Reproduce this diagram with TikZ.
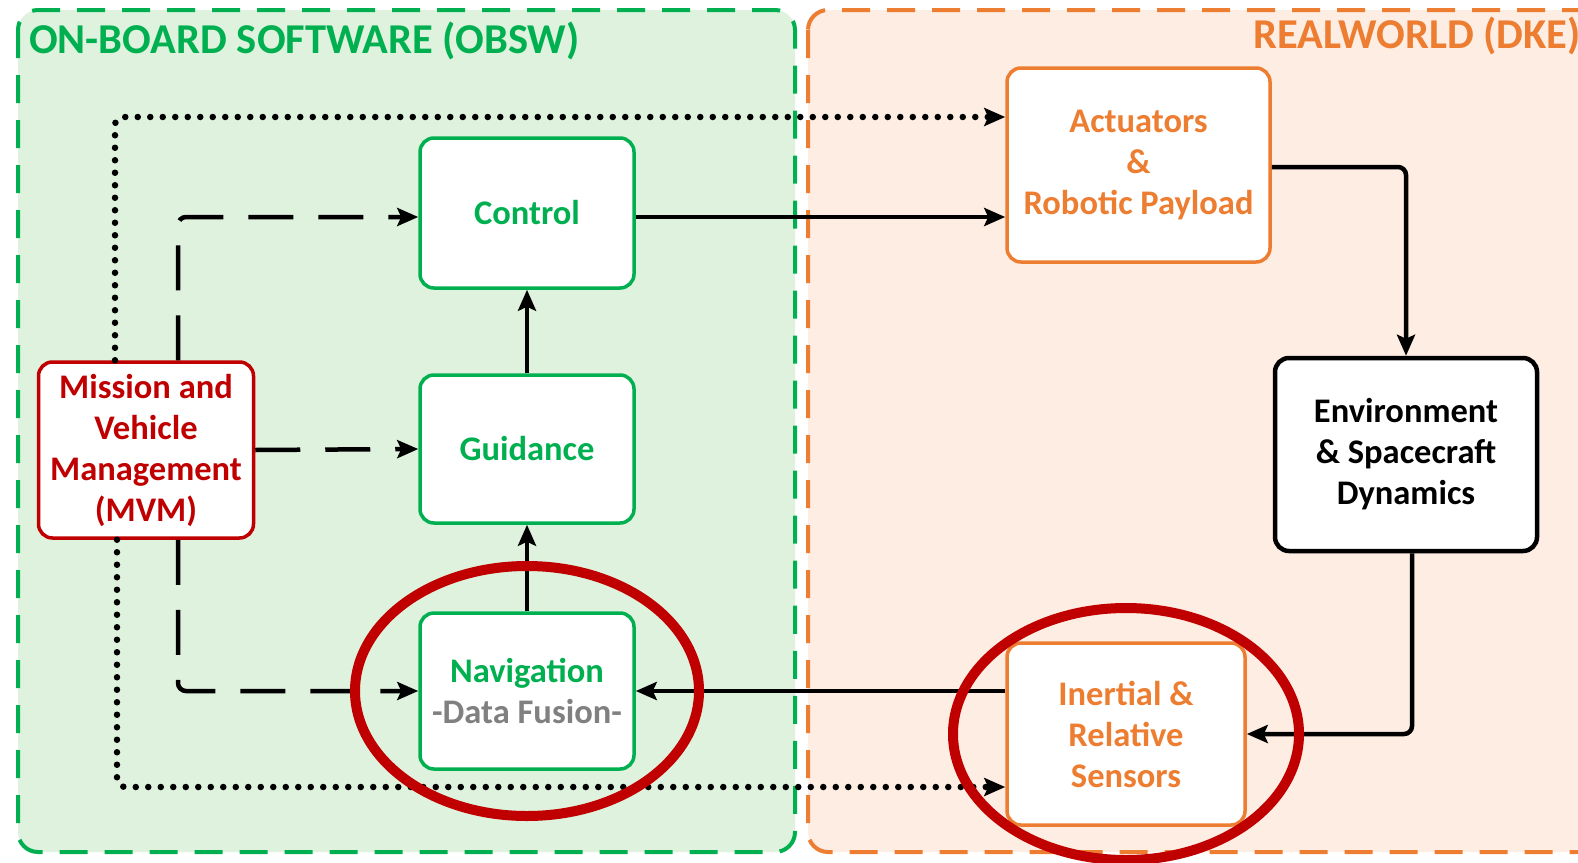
\documentclass[tikz,border=0pt]{standalone}
\usepackage{fontspec}
\setmainfont{Carlito}
\usetikzlibrary{arrows.meta}

\definecolor{obsw}{RGB}{0,176,80}
\definecolor{obswbg}{RGB}{222,242,222}
\definecolor{dke}{RGB}{237,125,49}
\definecolor{dkebg}{RGB}{253,237,227}
\definecolor{mvmred}{RGB}{192,0,0}
\definecolor{fusegrey}{RGB}{128,128,128}

\begin{document}
\begin{tikzpicture}[x=1pt,y=-1pt,
			font=\bfseries\fontsize{34.5}{41}\selectfont,
			region/.style={line width=4pt, dash pattern=on 28pt off 17pt, rounded corners=20pt},
			title/.style={font=\bfseries\fontsize{42.5}{48}\selectfont, anchor=west, inner sep=0pt},
			block/.style={draw, line width=3.5pt, fill=white, rounded corners=14pt, align=center, inner sep=0pt},
			sw/.style={block, draw=obsw, text=obsw, minimum width=214pt},
			rw/.style={block, draw=dke, text=dke},
			flow/.style={line width=4.5pt, -{Stealth[length=21pt,width=18pt,inset=4pt]}},
			cmd/.style={flow, dash pattern=on 45pt off 25pt},
			link/.style={flow, line width=6.5pt, line cap=round, dash pattern=on 0pt off 12.5pt},
			ring/.style={draw=mvmred, line width=10pt}]
			\clip (0,0) rectangle (1578,862);
			\useasboundingbox (0,0) rectangle (1578,862);
			% the two domains
			\draw[region, draw=obsw, fill=obswbg] (18,10) rectangle (795,852);
			\draw[region, draw=dke, fill=dkebg] (808,10) rectangle (1640,852);
			\node[title, text=obsw] (obswtitle) at (29,41) {ON-BOARD SOFTWARE (OBSW)};
			\node[title, text=dke] (dketitle) at (1253,36) {REALWORLD (DKE)};
			% on-board blocks
			\node[sw, minimum height=150pt] (ctrl) at (527,213) {Control};
			\node[sw, minimum height=148pt] (guid) at (527,449) {Guidance};
			\node[sw, minimum height=156pt] (nav) at (527,691) {Navigation\\[-0.5pt]{\color{fusegrey}-Data Fusion-}};
			\node[block, draw=mvmred, text=mvmred, minimum width=215pt, minimum height=176pt] (mvm) at (146,450)
				{Mission and\\Vehicle\\Management\\(MVM)};
			% real world blocks
			\node[rw, minimum width=263pt, minimum height=194pt] (act) at (1138.5,165) {Actuators\\\&\\Robotic Payload};
			\node[block, line width=4.5pt, minimum width=262pt, minimum height=193pt] (env) at (1406,454.5)
				{Environment\\\& Spacecraft\\Dynamics};
			\node[rw, minimum width=238pt, minimum height=182pt] (sens) at (1126,734) {Inertial \&\\Relative\\Sensors};
			% MVM links
			\draw[link, rounded corners=8pt] ([xshift=-31pt]mvm.north) |- ([yshift=48pt]act.west);
			\draw[link, rounded corners=8pt] ([xshift=-29pt]mvm.south) |- ([yshift=-53pt]sens.west);
			\draw[cmd, rounded corners=8pt] ([xshift=32pt]mvm.north) |- ([yshift=-4pt]ctrl.west);
			\draw[cmd] (mvm.east) -- (guid.west);
			\draw[cmd, rounded corners=8pt] ([xshift=32pt]mvm.south) |- (nav.west);
			% GNC loop
			\draw[flow] ([yshift=-4pt]ctrl.east) -- ([yshift=-4pt]ctrl.east -| act.west);
			\draw[flow] (guid) -- (ctrl);
			\draw[flow] (nav) -- (guid);
			\draw[flow, rounded corners=8pt] ([yshift=-2pt]act.east) -| (env.north);
			\draw[flow, rounded corners=8pt] ([xshift=6pt]env.south) |- (sens.east);
			\draw[flow] (nav.east -| sens.west) -- (nav.east);
			% highlight
			\draw[ring] (nav) ellipse [x radius=172, y radius=125];
			\draw[ring] (sens) ellipse [x radius=173, y radius=126];
			\end{tikzpicture}
\end{document}
